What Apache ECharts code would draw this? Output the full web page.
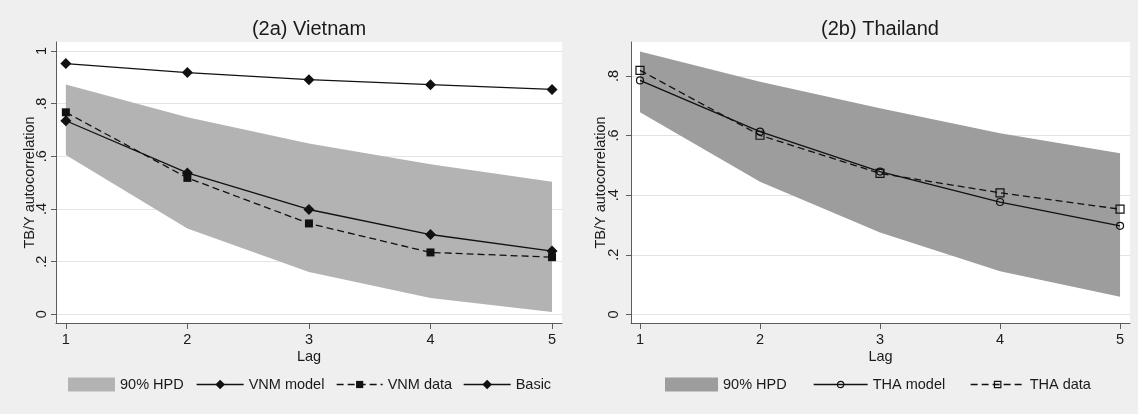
<!DOCTYPE html>
<html>
<head>
<meta charset="utf-8">
<script src="https://cdn.jsdelivr.net/npm/echarts@6/dist/echarts.min.js"></script>
<style>
  html, body { margin: 0; padding: 0; background: #efefef; }
  #chart { width: 1138px; height: 414px; }
</style>
</head>
<body>
<div id="chart"></div>
<script>
// Lags on the horizontal axis
const lags = [1, 2, 3, 4, 5];

// (2a) Vietnam: TB/Y autocorrelation by lag
const vnmHpdLow  = [0.605, 0.326, 0.161, 0.062, 0.009];
const vnmHpdHigh = [0.873, 0.748, 0.649, 0.570, 0.503];
const vnmModel   = [0.735, 0.537, 0.398, 0.303, 0.240];
const vnmData    = [0.767, 0.518, 0.345, 0.235, 0.217];
const vnmBasic   = [0.952, 0.918, 0.891, 0.872, 0.854];

// (2b) Thailand: TB/Y autocorrelation by lag
const thaHpdLow  = [0.678, 0.445, 0.275, 0.145, 0.059];
const thaHpdHigh = [0.882, 0.781, 0.692, 0.608, 0.541];
const thaModel   = [0.785, 0.613, 0.479, 0.377, 0.297];
const thaData    = [0.819, 0.601, 0.473, 0.408, 0.353];

// Tick values
const xTicks    = [1, 2, 3, 4, 5];
const vnmYTicks = [0, 0.2, 0.4, 0.6, 0.8, 1];
const thaYTicks = [0, 0.2, 0.4, 0.6, 0.8];

const FONT = 'Liberation Sans, Arial, sans-serif';
const INK = '#1a1a1a';
const AXIS = '#5c5c5c';
const LINE = '#111111';
const DASH = [7, 4];
const BAND_VN = '#b3b3b3';
const BAND_TH = '#9d9d9d';

const pairs = (ys) => lags.map((x, i) => [x, ys[i]]);
// Stata-style tick text: ".2" rather than "0.2"
const fmtTick = (v) => String(+v.toFixed(2)).replace(/^0\./, '.');

function xAxisFor(gridIndex, min, max) {
  return {
    type: 'value', gridIndex, min, max,
    name: 'Lag', nameLocation: 'middle', nameGap: 26, nameMoveOverlap: false,
    nameTextStyle: { fontFamily: FONT, fontSize: 14.5, color: INK },
    axisLine: { onZero: false, lineStyle: { color: AXIS, width: 1 } },
    axisTick: { customValues: xTicks, length: 6, lineStyle: { color: AXIS } },
    axisLabel: { customValues: xTicks, margin: 9, fontFamily: FONT, fontSize: 14.5, color: INK,
                 formatter: (v) => String(v) },
    splitLine: { show: false }
  };
}

function yAxisFor(gridIndex, min, max, ticks, nameGap, labelMargin) {
  return {
    type: 'value', gridIndex, min, max,
    name: 'TB/Y autocorrelation', nameLocation: 'middle', nameGap, nameMoveOverlap: false,
    nameTextStyle: { fontFamily: FONT, fontSize: 14.5, color: INK },
    axisLine: { show: true, onZero: false, lineStyle: { color: AXIS, width: 1 } },
    axisTick: { show: true, customValues: ticks, length: 5, lineStyle: { color: AXIS } },
    axisLabel: { customValues: ticks, rotate: 90, margin: labelMargin, fontFamily: FONT,
                 fontSize: 14.5, color: INK, formatter: fmtTick },
    splitLine: { show: true, lineStyle: { color: '#e4e4e4', width: 1 } }
  };
}

// Shaded 90% HPD band: one polygon through the upper bounds and back along the lower bounds
function band(name, idx, lo, hi, color) {
  return {
    name, type: 'custom', xAxisIndex: idx, yAxisIndex: idx,
    data: lags.map((x, i) => [x, lo[i], hi[i]]),
    encode: { x: 0, y: [1, 2] },
    itemStyle: { color },
    silent: true, z: 1,
    renderItem: (params, api) => {
      if (params.dataIndex !== 0) return null;
      const upper = lags.map((x, i) => api.coord([x, hi[i]]));
      const lower = lags.map((x, i) => api.coord([x, lo[i]])).reverse();
      return {
        type: 'polygon',
        shape: { points: upper.concat(lower) },
        style: { fill: color, stroke: null }
      };
    }
  };
}

function curve(name, idx, ys, symbol, size, dashed, hollow) {
  return {
    name, type: 'line', xAxisIndex: idx, yAxisIndex: idx,
    data: pairs(ys), symbol, symbolSize: size, showAllSymbol: true,
    lineStyle: { color: LINE, width: 1.3, type: dashed ? DASH : 'solid' },
    itemStyle: hollow
      ? { color: 'rgba(0,0,0,0)', borderColor: LINE, borderWidth: 1.2 }
      : { color: LINE, borderWidth: 0 },
    emphasis: { disabled: true }, silent: true, z: 3
  };
}

function legendItem(left, name, w, h, extra) {
  return Object.assign({
    left, top: 377, padding: 0, itemWidth: w, itemHeight: h, selectedMode: false,
    textStyle: { fontFamily: FONT, fontSize: 14.5, color: INK },
    data: [name]
  }, extra || {});
}

const chart = echarts.init(document.getElementById('chart'), null, { renderer: 'canvas' });

chart.setOption({
  backgroundColor: '#efefef',
  animation: false,
  title: [
    { text: '(2a) Vietnam', left: 309, top: 19, textAlign: 'center', padding: 0,
      textStyle: { fontFamily: FONT, fontSize: 20, fontWeight: 'normal', color: INK } },
    { text: '(2b) Thailand', left: 880, top: 19, textAlign: 'center', padding: 0,
      textStyle: { fontFamily: FONT, fontSize: 20, fontWeight: 'normal', color: INK } }
  ],
  grid: [
    { left: 56, top: 42, width: 506, height: 281, show: true, backgroundColor: '#ffffff', borderWidth: 0 },
    { left: 631, top: 42, width: 499, height: 281, show: true, backgroundColor: '#ffffff', borderWidth: 0 }
  ],
  xAxis: [ xAxisFor(0, 0.919, 5.082), xAxisFor(1, 0.925, 5.083) ],
  yAxis: [
    yAxisFor(0, -0.033, 1.034, vnmYTicks, 19, 7),
    yAxisFor(1, -0.029, 0.914, thaYTicks, 23, 10)
  ],
  legend: [
    legendItem(68, '90% HPD', 47, 14,
      { data: [{ name: '90% HPD', icon: 'rect', itemStyle: { color: BAND_VN, borderWidth: 0 } }] }),
    legendItem(196, 'VNM model', 47, 12,
      { itemStyle: { borderWidth: 0 }, lineStyle: { width: 1.3 } }),
    legendItem(336, 'VNM data', 46, 9,
      { itemStyle: { borderWidth: 0 }, lineStyle: { width: 1.3 } }),
    legendItem(463, 'Basic', 47, 12,
      { itemStyle: { borderWidth: 0 }, lineStyle: { width: 1.3 } }),
    legendItem(665, '90% HPD', 53, 14,
      { data: [{ name: '90% HPD', icon: 'rect', itemStyle: { color: BAND_TH, borderWidth: 0 } }] }),
    legendItem(813, 'THA model', 54, 8,
      { data: [{ name: 'THA model',
                 itemStyle: { color: 'rgba(0,0,0,0)', borderColor: LINE, borderWidth: 1.2 },
                 lineStyle: { color: LINE, width: 1.3, type: 'solid' } }] }),
    legendItem(970, 'THA data', 54, 8,
      { data: [{ name: 'THA data',
                 itemStyle: { color: 'rgba(0,0,0,0)', borderColor: LINE, borderWidth: 1.2 },
                 lineStyle: { color: LINE, width: 1.3, type: DASH } }] })
  ],
  series: [
    band('90% HPD', 0, vnmHpdLow, vnmHpdHigh, BAND_VN),
    curve('VNM model', 0, vnmModel, 'diamond', 11, false, false),
    curve('VNM data', 0, vnmData, 'rect', 8, true, false),
    curve('Basic', 0, vnmBasic, 'diamond', 11, false, false),
    band('90% HPD', 1, thaHpdLow, thaHpdHigh, BAND_TH),
    curve('THA model', 1, thaModel, 'circle', 7, false, true),
    curve('THA data', 1, thaData, 'rect', 8, true, true)
  ]
});
</script>
</body>
</html>
